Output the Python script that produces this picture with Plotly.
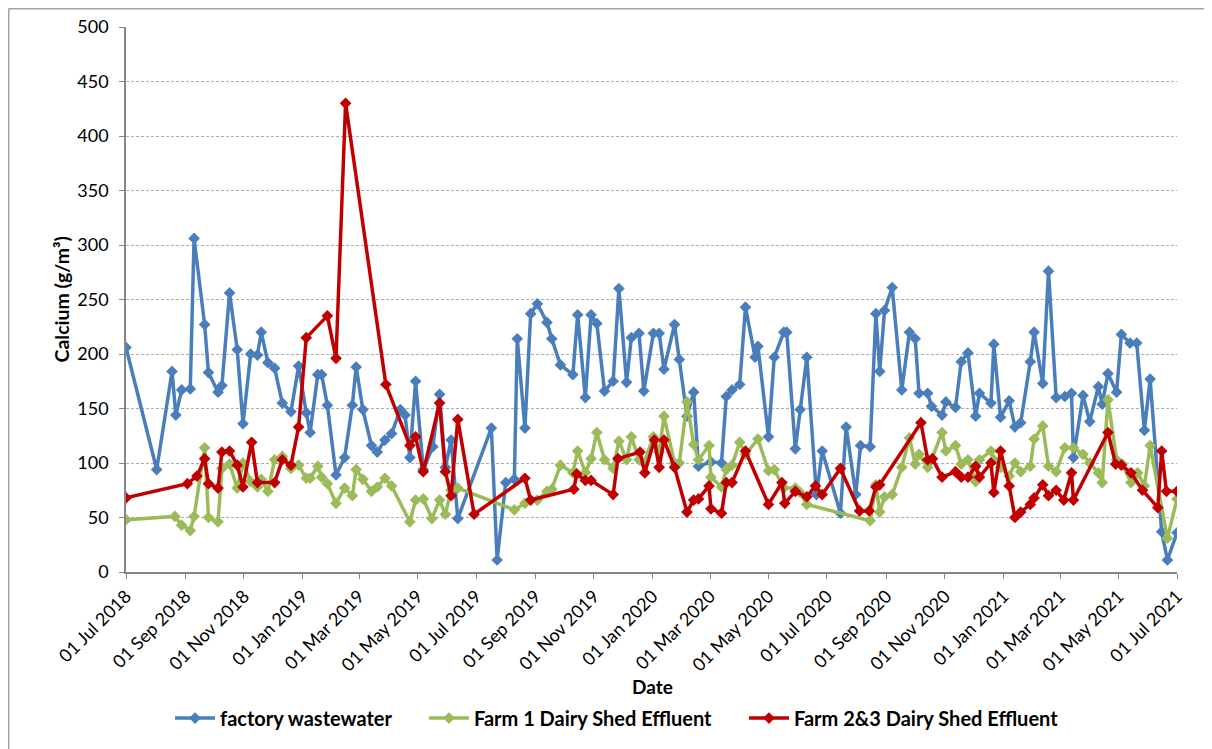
import plotly.graph_objects as go

# ---------------- data ----------------
fw_dates = ["2018-07-01","2018-08-02","2018-08-18","2018-08-22","2018-08-28","2018-09-06","2018-09-10","2018-09-21","2018-09-25",
"2018-10-05","2018-10-09","2018-10-17","2018-10-25","2018-10-31","2018-11-08","2018-11-15","2018-11-19","2018-11-26",
"2018-12-03","2018-12-11","2018-12-20","2018-12-28","2019-01-05","2019-01-09","2019-01-17","2019-01-21","2019-01-27",
"2019-02-05","2019-02-14","2019-02-22","2019-02-26","2019-03-05","2019-03-14","2019-03-20","2019-03-28",
"2019-04-04","2019-04-13","2019-04-18","2019-04-23","2019-04-29","2019-05-07","2019-05-17","2019-05-24","2019-05-30",
"2019-06-05","2019-06-12","2019-07-17","2019-07-23","2019-08-01","2019-08-10","2019-08-13","2019-08-21","2019-08-27",
"2019-09-03","2019-09-13","2019-09-18","2019-09-27","2019-10-10","2019-10-15","2019-10-23","2019-10-29",
"2019-11-04","2019-11-12","2019-11-21","2019-11-27","2019-12-05","2019-12-10","2019-12-18","2019-12-23",
"2020-01-02","2020-01-08","2020-01-13","2020-01-24","2020-01-29","2020-02-06","2020-02-13","2020-02-18",
"2020-03-02","2020-03-13","2020-03-18","2020-03-24","2020-04-01","2020-04-07","2020-04-17","2020-04-20",
"2020-05-01","2020-05-07","2020-05-17","2020-05-20","2020-05-29","2020-06-03","2020-06-10","2020-06-20","2020-06-26",
"2020-07-15","2020-07-21","2020-07-31","2020-08-05","2020-08-15","2020-08-21","2020-08-25","2020-08-30",
"2020-09-07","2020-09-17","2020-09-25","2020-10-01","2020-10-05","2020-10-14","2020-10-18","2020-10-29",
"2020-11-02","2020-11-12","2020-11-18","2020-11-25","2020-12-03","2020-12-07","2020-12-19","2020-12-22","2020-12-29",
"2021-01-07","2021-01-13","2021-01-19","2021-01-29","2021-02-02","2021-02-11","2021-02-17","2021-02-25",
"2021-03-06","2021-03-13","2021-03-15","2021-03-25","2021-04-01","2021-04-10","2021-04-14","2021-04-20","2021-04-29",
"2021-05-04","2021-05-13","2021-05-20","2021-05-28","2021-06-03","2021-06-15","2021-06-21","2021-07-01"]
fw_vals = [206,94,184,144,167,168,306,227,183,
165,171,256,204,136,200,199,220,192,
187,155,147,189,146,128,181,181,153,
89,105,153,188,149,116,110,121,
127,149,144,105,175,94,115,163,96,
121,49,132,11,82,85,214,132,237,
246,229,214,190,181,236,160,236,
228,166,175,260,174,215,219,166,
219,219,186,227,195,143,165,97,
101,100,161,167,172,243,197,207,
124,197,220,220,113,149,197,71,111,
54,133,71,116,115,237,184,240,
261,167,220,214,164,164,152,144,
156,151,193,201,143,164,155,209,142,
157,133,137,193,220,173,276,160,
161,164,105,162,138,170,154,182,165,
218,210,210,130,177,37,11,36]

f1_dates = ["2018-07-01","2018-08-21","2018-08-28","2018-09-06","2018-09-10","2018-09-21","2018-09-25","2018-10-05","2018-10-09","2018-10-17",
"2018-10-25","2018-10-31","2018-11-08","2018-11-15","2018-11-19","2018-11-26","2018-12-03","2018-12-11","2018-12-20","2018-12-28",
"2019-01-05","2019-01-09","2019-01-17","2019-01-21","2019-01-27","2019-02-05","2019-02-14","2019-02-22","2019-02-26","2019-03-05",
"2019-03-14","2019-03-20","2019-03-28","2019-04-04","2019-04-23","2019-04-29","2019-05-07","2019-05-16","2019-05-24","2019-05-30",
"2019-06-05","2019-06-12",
"2019-08-10","2019-08-21","2019-09-03","2019-09-13","2019-09-18","2019-09-27","2019-10-10","2019-10-15","2019-10-23","2019-10-29",
"2019-11-04","2019-11-12","2019-11-21","2019-11-27","2019-12-05","2019-12-10","2019-12-18","2019-12-23",
"2020-01-02","2020-01-08","2020-01-13","2020-01-24","2020-01-29","2020-02-06","2020-02-13","2020-02-18","2020-02-29","2020-03-02",
"2020-03-13","2020-03-18","2020-03-24","2020-04-01","2020-04-07","2020-04-20","2020-05-01","2020-05-07","2020-05-17","2020-05-29",
"2020-06-03","2020-06-10",
"2020-08-15","2020-08-21","2020-08-25","2020-08-30","2020-09-07","2020-09-17","2020-09-25","2020-10-01","2020-10-05","2020-10-14",
"2020-10-18","2020-10-29","2020-11-02","2020-11-12","2020-11-18","2020-11-25","2020-12-03","2020-12-07","2020-12-19","2020-12-22",
"2020-12-29",
"2021-01-07","2021-01-13","2021-01-19","2021-01-29","2021-02-02","2021-02-11","2021-02-17","2021-02-25","2021-03-06","2021-03-15",
"2021-03-25","2021-04-01","2021-04-10","2021-04-14","2021-04-20","2021-04-29","2021-05-05","2021-05-14","2021-05-21","2021-05-28",
"2021-06-03","2021-06-21","2021-07-01"]
f1_vals = [48,51,43,38,51,114,50,46,95,99,
77,100,83,78,85,74,103,106,95,98,
86,86,97,87,81,63,77,70,94,85,
74,78,86,79,46,66,67,49,66,53,
75,77,
57,63,66,74,76,98,91,111,91,104,
128,103,95,120,103,124,103,100,
124,110,143,100,100,156,117,103,116,87,
78,94,98,119,108,122,93,94,77,77,
73,62,
47,80,55,69,71,96,123,99,108,96,
103,128,111,116,99,103,83,103,111,103,
96,
88,100,92,97,122,134,97,92,114,114,
108,100,91,82,158,103,99,82,91,79,
116,31,67]

f23_dates = ["2018-07-01","2018-09-03","2018-09-13","2018-09-21","2018-09-25","2018-10-05","2018-10-09","2018-10-17","2018-10-25","2018-10-31",
"2018-11-09","2018-11-15","2018-12-03","2018-12-11","2018-12-20","2018-12-28",
"2019-01-05","2019-01-27","2019-02-05","2019-02-15","2019-03-29","2019-04-23","2019-04-29","2019-05-07","2019-05-24","2019-05-30",
"2019-06-05","2019-06-12","2019-06-29","2019-08-21","2019-08-27","2019-10-11","2019-10-14","2019-10-23","2019-10-29","2019-11-21",
"2019-11-26","2019-12-19","2019-12-24",
"2020-01-03","2020-01-08","2020-01-13","2020-01-24","2020-02-06","2020-02-13","2020-02-18","2020-02-29","2020-03-02","2020-03-13",
"2020-03-18","2020-03-24","2020-04-07","2020-05-01","2020-05-15","2020-05-18","2020-05-29","2020-06-10","2020-06-19","2020-06-26",
"2020-07-15","2020-08-04","2020-08-14","2020-08-21","2020-08-25","2020-10-07","2020-10-14","2020-10-19","2020-10-29","2020-11-12",
"2020-11-18","2020-11-25","2020-12-03","2020-12-07","2020-12-19","2020-12-22","2020-12-29",
"2021-01-07","2021-01-13","2021-01-19","2021-01-29","2021-02-02","2021-02-11","2021-02-17","2021-02-25","2021-03-05","2021-03-13",
"2021-03-15","2021-04-20","2021-04-28","2021-05-04","2021-05-14","2021-05-26","2021-06-11","2021-06-15","2021-06-20","2021-07-01"]
f23_vals = [68,81,88,104,81,77,110,111,98,78,
119,82,82,103,98,133,
215,235,196,430,172,116,124,92,155,92,
70,140,53,86,66,76,90,84,84,71,
104,110,91,
121,96,121,96,55,66,67,79,58,54,
82,82,111,62,82,63,74,69,79,71,
95,56,56,78,80,137,103,104,87,92,
87,87,97,87,100,73,111,
79,50,55,62,68,80,70,75,66,91,
66,128,99,98,91,75,59,111,74,74]

series_names = ["factory wastewater", "Farm 1 Dairy Shed Effluent", "Farm 2&3 Dairy Shed Effluent"]
series_colors = ["#4A7EBB", "#9BBB59", "#C00000"]
legend_ids = ["legend", "legend2", "legend3"]

# ---------------- figure ----------------
FONT = "Lato, 'Open Sans', sans-serif"
fig = go.Figure()
for name, xs, ys, col, lg in zip(series_names,
                                 [fw_dates, f1_dates, f23_dates],
                                 [fw_vals, f1_vals, f23_vals],
                                 series_colors, legend_ids):
    fig.add_trace(go.Scatter(
        x=xs, y=ys, name=name, mode="lines+markers",
        line=dict(color=col, width=3.5),
        marker=dict(symbol="diamond", size=9, color=col),
        legend=lg,
    ))

axis_col = "#868686"
frame_col = "#A0A0A0"
leg_common = dict(orientation="h", xanchor="left", y=-0.268, yanchor="middle",
                  font=dict(family=FONT, size=20, weight="bold"),
                  itemwidth=40, bgcolor="rgba(0,0,0,0)")
# page has an 8px body margin, so the figure is drawn 8px smaller and offset
fig.update_layout(
    width=1204, height=741,
    margin=dict(l=118, r=35, t=19, b=175.4),
    paper_bgcolor="white", plot_bgcolor="white",
    font=dict(family=FONT, size=18, color="#000000"),
    showlegend=True,
    legend=dict(x=0.0419, **leg_common),
    legend2=dict(x=0.2835, **leg_common),
    legend3=dict(x=0.588, **leg_common),
    xaxis=dict(
        type="date", range=["2018-07-01", "2021-07-01"],
        tick0="2018-07-01", dtick="M2", tickformat="%d %b %Y",
        tickangle=-45, ticks="outside", ticklen=5, tickcolor=axis_col,
        showline=True, linecolor=axis_col, linewidth=1.5,
        showgrid=False, zeroline=False, automargin=False,
        tickfont=dict(family=FONT, size=18),
    ),
    yaxis=dict(
        range=[0, 500], dtick=50, tick0=0,
        ticks="outside", ticklen=5, tickcolor=axis_col,
        showline=True, linecolor=axis_col, linewidth=1.5,
        showgrid=True, gridcolor="#ADADAD", gridwidth=1, griddash="3px,2px",
        zeroline=False, ticklabelstandoff=7, automargin=False,
        tickfont=dict(family=FONT, size=18),
    ),
    annotations=[
        dict(text="<b>Date</b>", xref="paper", yref="paper", x=0.5005, y=-0.21,
             xanchor="center", yanchor="middle", showarrow=False,
             font=dict(family=FONT, size=19)),
        dict(text="<b>Calcium (g/m³)</b>", xref="paper", yref="paper", x=-0.0609, y=0.5,
             xanchor="center", yanchor="middle", showarrow=False, textangle=-90,
             font=dict(family=FONT, size=19.5)),
    ],
    shapes=[
        # chart-area frame: only its top and left edges fall inside the picture
        dict(type="line", xref="paper", yref="paper",
             x0=-0.1116, x1=1.1, y0=1.0334, y1=1.0334,
             line=dict(color=frame_col, width=1.5), layer="below"),
        dict(type="line", xref="paper", yref="paper",
             x0=-0.1116, x1=-0.1116, y0=-0.4, y1=1.0334,
             line=dict(color=frame_col, width=1.5), layer="below"),
    ],
)

fig.write_html("out.html")
